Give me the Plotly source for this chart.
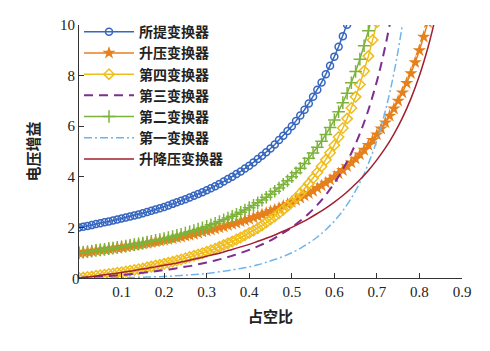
import plotly.graph_objects as go

# ---- data (duty cycle D vs voltage gain) ----
duty_fine = [round(0.01 * i, 2) for i in range(90)]

proposed = [2.00, 2.03, 2.06, 2.09, 2.13, 2.16, 2.20, 2.23, 2.27, 2.31,
            2.35, 2.39, 2.43, 2.47, 2.51, 2.56, 2.61, 2.66, 2.71, 2.76,
            2.81, 2.87, 2.93, 2.99, 3.05, 3.11, 3.18, 3.25, 3.32, 3.39,
            3.47, 3.55, 3.63, 3.72, 3.81, 3.91, 4.00, 4.11, 4.21, 4.33,
            4.44, 4.57, 4.70, 4.83, 4.97, 5.12, 5.28, 5.45, 5.62, 5.81,
            6.00, 6.21, 6.42, 6.65, 6.90, 7.16, 7.44, 7.73, 8.05, 8.39,
            8.75, 9.14, 9.56, 10.01, 10.49]

boost = [1.00, 1.02, 1.04, 1.06, 1.08, 1.11, 1.13, 1.15, 1.17, 1.20,
         1.22, 1.25, 1.27, 1.30, 1.33, 1.35, 1.38, 1.41, 1.44, 1.47,
         1.50, 1.53, 1.56, 1.60, 1.63, 1.67, 1.70, 1.74, 1.78, 1.82,
         1.86, 1.90, 1.94, 1.99, 2.03, 2.08, 2.13, 2.17, 2.23, 2.28,
         2.33, 2.39, 2.45, 2.51, 2.57, 2.64, 2.70, 2.77, 2.85, 2.92,
         3.00, 3.08, 3.17, 3.26, 3.35, 3.44, 3.55, 3.65, 3.76, 3.88,
         4.00, 4.13, 4.26, 4.41, 4.56, 4.71, 4.88, 5.06, 5.25, 5.45,
         5.67, 5.90, 6.14, 6.41, 6.69, 7.00, 7.33, 7.70, 8.09, 8.52,
         9.00, 9.53, 10.11]

fourth = [0.00, 0.02, 0.04, 0.06, 0.09, 0.11, 0.13, 0.16, 0.18, 0.21,
          0.23, 0.26, 0.29, 0.32, 0.35, 0.38, 0.42, 0.45, 0.49, 0.52,
          0.56, 0.60, 0.64, 0.69, 0.73, 0.78, 0.83, 0.88, 0.93, 0.98,
          1.04, 1.10, 1.16, 1.23, 1.30, 1.37, 1.44, 1.52, 1.60, 1.69,
          1.78, 1.87, 1.97, 2.08, 2.19, 2.31, 2.43, 2.56, 2.70, 2.84,
          3.00, 3.16, 3.34, 3.53, 3.73, 3.94, 4.17, 4.41, 4.67, 4.95,
          5.25, 5.57, 5.93, 6.30, 6.72, 7.16, 7.65, 8.18, 8.77, 9.41,
          10.11]

second = [1.00, 1.02, 1.04, 1.06, 1.09, 1.11, 1.13, 1.16, 1.18, 1.21,
          1.23, 1.26, 1.29, 1.32, 1.35, 1.38, 1.42, 1.45, 1.49, 1.52,
          1.56, 1.60, 1.64, 1.69, 1.73, 1.78, 1.83, 1.88, 1.93, 1.98,
          2.04, 2.10, 2.16, 2.23, 2.30, 2.37, 2.44, 2.52, 2.60, 2.69,
          2.78, 2.87, 2.97, 3.08, 3.19, 3.31, 3.43, 3.56, 3.70, 3.84,
          4.00, 4.16, 4.34, 4.53, 4.73, 4.94, 5.17, 5.41, 5.67, 5.95,
          6.25, 6.57, 6.93, 7.30, 7.72, 8.16, 8.65, 9.18, 9.77, 10.41]

third_d = [0.00, 0.02, 0.04, 0.06, 0.08, 0.10, 0.12, 0.14, 0.16, 0.18,
           0.20, 0.22, 0.24, 0.26, 0.28, 0.30, 0.32, 0.34, 0.36, 0.38,
           0.40, 0.42, 0.44, 0.46, 0.48, 0.50, 0.52, 0.54, 0.56, 0.58,
           0.60, 0.62, 0.64, 0.66, 0.68, 0.70, 0.71, 0.72, 0.73, 0.74]
third = [0.00, 0.02, 0.04, 0.07, 0.09, 0.12, 0.15, 0.19, 0.23, 0.27,
         0.31, 0.36, 0.42, 0.47, 0.54, 0.61, 0.69, 0.78, 0.88, 0.99,
         1.11, 1.25, 1.40, 1.58, 1.78, 2.00, 2.26, 2.55, 2.89, 3.29,
         3.75, 4.29, 4.94, 5.71, 6.64, 7.78, 8.44, 9.18, 10.01, 10.95]

first_d = [0.00, 0.02, 0.04, 0.06, 0.08, 0.10, 0.12, 0.14, 0.16, 0.18,
           0.20, 0.22, 0.24, 0.26, 0.28, 0.30, 0.32, 0.34, 0.36, 0.38,
           0.40, 0.42, 0.44, 0.46, 0.48, 0.50, 0.52, 0.54, 0.56, 0.58,
           0.60, 0.62, 0.64, 0.66, 0.68, 0.70, 0.71, 0.72, 0.73, 0.74,
           0.75, 0.76]
first = [0.000, 0.0004, 0.0017, 0.0041, 0.0076, 0.012, 0.019, 0.027, 0.036, 0.048,
         0.06, 0.08, 0.10, 0.12, 0.15, 0.18, 0.22, 0.27, 0.32, 0.38,
         0.44, 0.52, 0.62, 0.73, 0.85, 1.00, 1.17, 1.38, 1.62, 1.91,
         2.25, 2.66, 3.16, 3.77, 4.52, 5.44, 5.99, 6.61, 7.31, 8.10,
         9.00, 10.03]

buckboost_d = [0.00, 0.02, 0.04, 0.06, 0.08, 0.10, 0.12, 0.14, 0.16, 0.18,
               0.20, 0.22, 0.24, 0.26, 0.28, 0.30, 0.32, 0.34, 0.36, 0.38,
               0.40, 0.42, 0.44, 0.46, 0.48, 0.50, 0.52, 0.54, 0.56, 0.58,
               0.60, 0.62, 0.64, 0.66, 0.68, 0.70, 0.72, 0.74, 0.76, 0.78,
               0.80, 0.82, 0.83, 0.84]
buckboost = [0.00, 0.04, 0.08, 0.13, 0.17, 0.22, 0.27, 0.33, 0.38, 0.44,
             0.50, 0.56, 0.63, 0.70, 0.78, 0.86, 0.94, 1.03, 1.13, 1.23,
             1.33, 1.45, 1.57, 1.70, 1.85, 2.00, 2.17, 2.35, 2.55, 2.76,
             3.00, 3.26, 3.56, 3.88, 4.25, 4.67, 5.14, 5.69, 6.33, 7.09,
             8.00, 9.11, 9.76, 10.50]

names = ["所提变换器", "升压变换器", "第四变换器", "第三变换器",
         "第二变换器", "第一变换器", "升降压变换器"]
x_ticks = [0.1, 0.2, 0.3, 0.4, 0.5, 0.6, 0.7, 0.8, 0.9]
x_tick_text = ["0.1", "0.2", "0.3", "0.4", "0.5", "0.6", "0.7", "0.8", "0.9"]
y_ticks = [2, 4, 6, 8, 10]
y_tick_text = ["2", "4", "6", "8", "10"]

C_BLUE = "#3566c0"
C_ORANGE = "#e5801c"
C_YELLOW = "#efbd1c"
C_PURPLE = "#7e2f8e"
C_GREEN = "#7cb33a"
C_LBLUE = "#72b4ea"
C_RED = "#a21f2f"

fig = go.Figure()

fig.add_trace(go.Scatter(
    x=duty_fine[:len(proposed)], y=proposed, name=names[0], mode="lines+markers",
    line=dict(color=C_BLUE, width=1.5),
    marker=dict(symbol="circle-open", size=7, color=C_BLUE, line=dict(width=1.5))))

fig.add_trace(go.Scatter(
    x=duty_fine[:len(boost)], y=boost, name=names[1], mode="lines+markers",
    line=dict(color=C_ORANGE, width=1.5),
    marker=dict(symbol="star", size=10, color=C_ORANGE, line=dict(width=0))))

fig.add_trace(go.Scatter(
    x=duty_fine[:len(fourth)], y=fourth, name=names[2], mode="lines+markers",
    line=dict(color=C_YELLOW, width=1.5),
    marker=dict(symbol="diamond-open", size=8, color=C_YELLOW, line=dict(width=1.5))))

fig.add_trace(go.Scatter(
    x=third_d, y=third, name=names[3], mode="lines", line_shape="spline",
    line=dict(color=C_PURPLE, width=2, dash="9px,6px")))

fig.add_trace(go.Scatter(
    x=duty_fine[:len(second)], y=second, name=names[4], mode="lines+markers",
    line=dict(color=C_GREEN, width=1.5),
    marker=dict(symbol="cross-thin-open", size=9, color=C_GREEN, line=dict(width=1.5, color=C_GREEN))))

fig.add_trace(go.Scatter(
    x=first_d, y=first, name=names[5], mode="lines", line_shape="spline",
    line=dict(color=C_LBLUE, width=1.5, dash="8px,3px,2px,3px")))

fig.add_trace(go.Scatter(
    x=buckboost_d, y=buckboost, name=names[6], mode="lines", line_shape="spline",
    line=dict(color=C_RED, width=1.5)))

tick_font = dict(family="Liberation Serif, Times New Roman, serif", size=15, color="#222")
cjk_font = dict(family="Noto Sans CJK SC", size=15, color="#222", weight="bold")

fig.update_layout(
    width=490, height=351,
    margin=dict(l=79, r=28, t=25, b=73),
    paper_bgcolor="white", plot_bgcolor="white",
    showlegend=True,
    legend=dict(x=0.0, y=1.035, xanchor="left", yanchor="top",
                bgcolor="rgba(255,255,255,0)", borderwidth=0,
                font=dict(family="Noto Sans CJK SC", size=14, color="#222", weight="bold"),
                tracegroupgap=0, itemwidth=50),
    xaxis=dict(range=[0, 0.9], tickvals=x_ticks, ticktext=x_tick_text,
               showline=True, linecolor="#333", linewidth=1, mirror=False,
               ticks="inside", ticklen=5, tickcolor="#333", showgrid=False,
               zeroline=False, tickfont=tick_font,
               title=dict(text="占空比", font=cjk_font, standoff=12)),
    yaxis=dict(range=[0, 10], tickvals=y_ticks, ticktext=y_tick_text,
               showline=True, linecolor="#333", linewidth=1, mirror=False,
               ticks="inside", ticklen=5, tickcolor="#333", showgrid=False,
               zeroline=False, tickfont=tick_font,
               title=dict(text="电压增益", font=cjk_font, standoff=16)),
)

fig.add_annotation(text="0", xref="paper", yref="paper", x=0, y=0,
                   xshift=-9, yshift=-11, showarrow=False, font=tick_font)

fig.write_html("out.html")
